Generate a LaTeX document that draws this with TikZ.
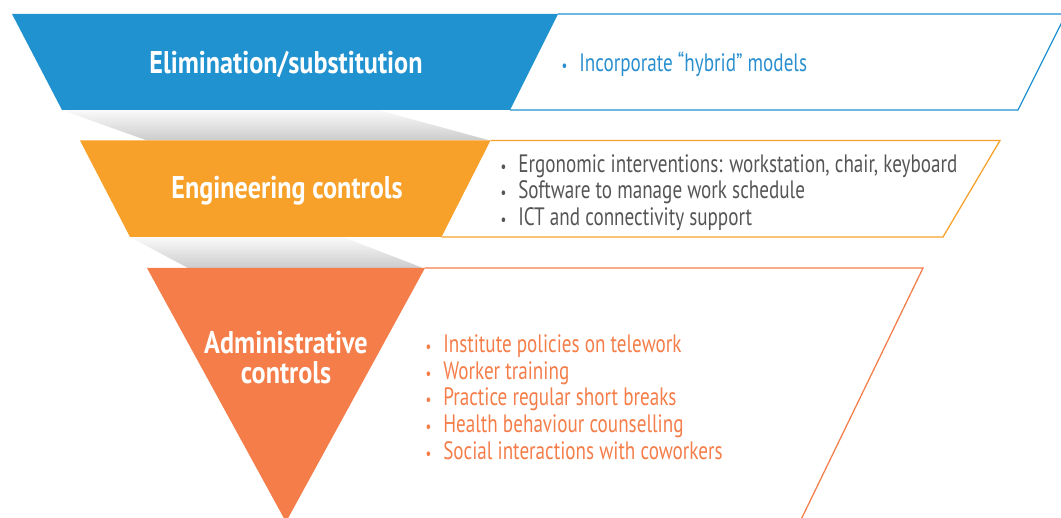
\documentclass[tikz,border=0pt]{standalone}
\usepackage{fontspec}
\setmainfont{PT Sans}[FakeStretch=0.76]
\newfontfamily\titlefont{PT Sans}[FakeStretch=0.835]
\definecolor{elimblue}{HTML}{2192D0}
\definecolor{engorange}{HTML}{F7A12A}
\definecolor{admred}{HTML}{F47D49}
\definecolor{elimtext}{HTML}{2A8FCF}
\definecolor{engtext}{HTML}{555555}
\newcommand{\bul}{\llap{\fontsize{12}{12}\selectfont\textbullet\hspace{8.5pt}}}
\begin{document}
\begin{tikzpicture}[x=0.025cm,y=-0.025cm,
    bandtitle/.style={font=\titlefont\bfseries\fontsize{22.3}{21.3}\selectfont, text=white, inner sep=0pt, align=center, anchor=base},
    bullets/.style={font=\fontsize{17.9}{18.9}\selectfont, inner sep=0pt, align=left, anchor=base west},
    shadow/.style={top color=gray!4, bottom color=gray!40, draw=none},
    frame/.style={line width=0.9pt}]
  \useasboundingbox (0,0) rectangle (1061,518);
  \clip (0,0) rectangle (1061,518);
  % Schatten zwischen den Stufen
  \shade[shadow] (62,110) -- (378,110) -- (490,140.5) -- (147,140.5) -- cycle;
  \shade[shadow] (130,237) -- (343,237) -- (423,268) -- (188,268) -- cycle;
  % Stufe 1
  \fill[elimblue] (12,14) -- (558,14) -- (510,110) -- (62,110) -- cycle;
  \draw[frame, elimblue] (558,14) -- (1066,14) -- (1018,110) -- (510,110);
  % Stufe 2
  \fill[engorange] (80,140.5) -- (490.5,140.5) -- (441.5,237) -- (130,237) -- cycle;
  \draw[frame, engorange] (490.5,140.5) -- (1000,140.5) -- (943,237) -- (441.5,237);
  % Stufe 3
  \fill[admred] (147,268) -- (425,268) -- (286,522) -- cycle;
  \draw[frame, admred] (425,268) -- (923,268) -- (796,530);
  % Titel (Grundlinie der letzten Zeile)
  \node[bandtitle] (elim) at (286,74) {Elimination/substitution};
  \node[bandtitle] (eng) at (287,199) {Engineering controls};
  \node[bandtitle] (adm) at (286,383) {Administrative\\controls};
  % Massnahmen
  \node[bullets, text=elimtext] (elimlist) at (579,72) {\bul Incorporate “hybrid” models};
  \node[bullets, text=engtext] (englist) at (518,225.5) {\bul Ergonomic interventions: workstation, chair, keyboard\\
    \bul Software to manage work schedule\\
    \bul ICT and connectivity support};
  \node[bullets, text=admred] (admlist) at (443,459) {\bul Institute policies on telework\\
    \bul Worker training\\
    \bul Practice regular short breaks\\
    \bul Health behaviour counselling\\
    \bul Social interactions with coworkers};
\end{tikzpicture}
\end{document}
